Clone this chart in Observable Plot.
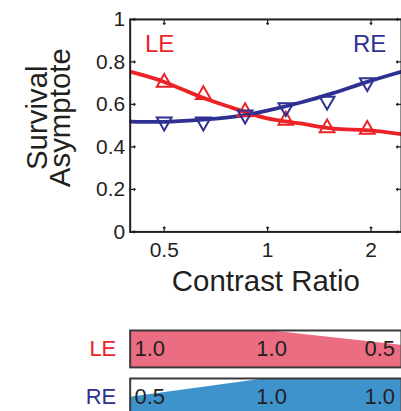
<!DOCTYPE html>
<html><head><meta charset="utf-8">
<script src="https://cdn.jsdelivr.net/npm/d3@7"></script>
<script src="https://cdn.jsdelivr.net/npm/@observablehq/plot@0.6"></script>
<style>
html,body{margin:0;padding:0;background:#fff;overflow:hidden;}
#wrap{position:relative;width:401px;height:411px;overflow:hidden;font-family:"Liberation Sans",Arial,sans-serif;}
#wrap > div{position:absolute;left:0;}
</style></head><body>
<div id="wrap"><div id="main" style="top:0"></div><div id="barLE" style="top:328px"></div><div id="barRE" style="top:376px"></div></div>
<script>
// ---- data ----
const xTicks = [0.5, 1, 2];
const yTicks = [0, 0.2, 0.4, 0.6, 0.8, 1];
const markerRatio = [0.5, 0.65, 0.86, 1.13, 1.49, 1.95];
const markerLE = [0.703, 0.646, 0.565, 0.525, 0.489, 0.482];
const markerRE = [0.518, 0.518, 0.551, 0.586, 0.616, 0.703];
const fitRatio = [0.4, 0.5, 0.634, 0.79, 0.99, 1.24, 1.55, 1.93, 2.45];
const fitLE = [0.753, 0.706, 0.637, 0.584, 0.536, 0.511, 0.486, 0.479, 0.46];
const fitRE = [0.519, 0.518, 0.527, 0.541, 0.57, 0.608, 0.653, 0.704, 0.754];
const seriesNames = ["LE", "RE"];
const seriesLabelRatio = [0.485, 1.98];
const seriesLabelValue = [0.885, 0.885];
const barRatio = [0.398, 1.0, 2.45];
const barLE = [1, 1, 0.6];
const barRE = [0.49, 1, 1];
const barTextRatio = [0.454, 1.027, 2.12];
const barTextLE = ["1.0", "1.0", "0.5"];
const barTextRE = ["0.5", "1.0", "1.0"];
const xDomain = [0.398, 2.453];

// ---- styles ----
const RED = "#ec2227", BLUE = "#2e3192", INK = "#231f20";
const PINK = "#ea6d82", SKY = "#3f93cd";
const FONT = '"Liberation Sans", Arial, sans-serif';

const toRows = (xs, ys) => xs.map((x, i) => ({x, y: ys[i]}));

const main = Plot.plot({
  width: 402, height: 300,
  marginLeft: 130, marginRight: 0, marginTop: 19, marginBottom: 68,
  style: {fontFamily: FONT, color: INK, background: "white", overflow: "visible"},
  x: {type: "log", domain: xDomain},
  y: {domain: [0, 1]},
  marks: [
    Plot.line(toRows(fitRatio, fitLE), {x: "x", y: "y", stroke: RED, strokeWidth: 3.8, curve: "natural"}),
    Plot.line(toRows(fitRatio, fitRE), {x: "x", y: "y", stroke: BLUE, strokeWidth: 3.8, curve: "natural"}),
    Plot.dot(toRows(markerRatio, markerLE), {x: "x", y: "y", symbol: "triangle", r: 5.5, stroke: RED, strokeWidth: 2, fill: "none"}),
    Plot.dot(toRows(markerRatio, markerRE), {x: "x", y: "y", symbol: "triangle", rotate: 180, r: 5.5, stroke: BLUE, strokeWidth: 2, fill: "none"}),
    Plot.text([seriesNames[0]], {x: [seriesLabelRatio[0]], y: [seriesLabelValue[0]], fill: RED, fontSize: 24}),
    Plot.text([seriesNames[1]], {x: [seriesLabelRatio[1]], y: [seriesLabelValue[1]], fill: BLUE, fontSize: 24}),
    Plot.frame({stroke: INK, strokeWidth: 2}),
    Plot.vectorY(yTicks, {y: d => d, frameAnchor: "left", rotate: 90, length: 5, anchor: "start", stroke: INK, strokeWidth: 1.2}),
    Plot.vectorY(yTicks, {y: d => d, frameAnchor: "right", rotate: -90, length: 5, anchor: "start", stroke: INK, strokeWidth: 1.2}),
    Plot.vectorX(xTicks, {x: d => d, frameAnchor: "bottom", rotate: 0, length: 5, anchor: "start", stroke: INK, strokeWidth: 1.2}),
    Plot.vectorX(xTicks, {x: d => d, frameAnchor: "top", rotate: 180, length: 5, anchor: "start", stroke: INK, strokeWidth: 1.2}),
    Plot.axisY({ticks: yTicks, tickSize: 0, tickPadding: 5, fontSize: 21, label: null, tickFormat: d => String(d)}),
    Plot.axisX({ticks: xTicks, tickSize: 0, tickPadding: 10, fontSize: 21, label: null, tickFormat: d => String(d)}),
    Plot.text(["Contrast Ratio"], {frameAnchor: "bottom", dy: 59, fontSize: 29.5, fill: INK}),
    Plot.text(["Survival\nAsymptote"], {frameAnchor: "left", textAnchor: "middle", rotate: -90, dx: -79, dy: -8, fontSize: 29.5, lineHeight: 0.78, fill: INK})
  ]
});
document.getElementById("main").appendChild(main);

function bar(values, texts, label, color, fill) {
  return Plot.plot({
    width: 402, height: 41,
    marginLeft: 130, marginRight: 0, marginTop: 2, marginBottom: 2,
    style: {fontFamily: FONT, color: INK, background: "transparent", overflow: "visible"},
    x: {type: "log", domain: xDomain, axis: null},
    y: {domain: [0, 1], axis: null},
    marks: [
      Plot.areaY(toRows(barRatio, values), {x: "x", y: "y", fill}),
      Plot.frame({stroke: "#3a3a3a", strokeWidth: 2}),
      Plot.text(texts, {x: (d, i) => barTextRatio[i], frameAnchor: "middle", fontSize: 22, fill: INK}),
      Plot.text([label], {frameAnchor: "left", dx: -14, textAnchor: "end", fontSize: 22, fill: color})
    ]
  });
}
document.getElementById("barLE").appendChild(bar(barLE, barTextLE, seriesNames[0], RED, PINK));
document.getElementById("barRE").appendChild(bar(barRE, barTextRE, seriesNames[1], BLUE, SKY));
</script>
</body></html>
